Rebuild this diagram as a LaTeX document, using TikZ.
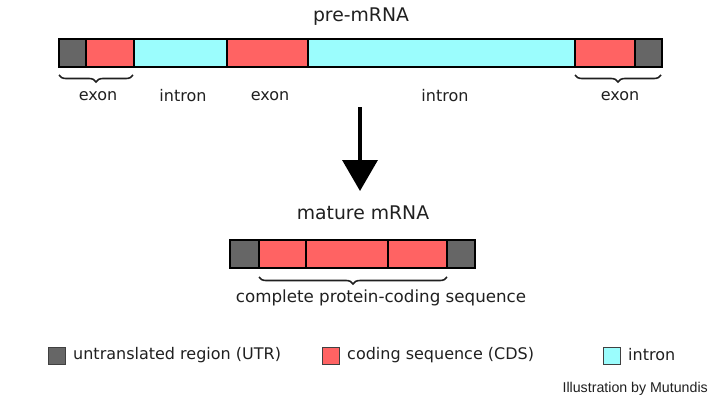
\documentclass[tikz,border=0pt]{standalone}
\usepackage{fontspec}
\setmainfont{DejaVu Sans}
\newfontfamily\creditfont{Liberation Sans}
\usetikzlibrary{arrows.meta,decorations.pathreplacing}
\definecolor{utrgrey}{HTML}{666666}
\definecolor{cdsred}{HTML}{FF6363}
\definecolor{intcyan}{HTML}{9BFDFD}
\definecolor{txt}{HTML}{202020}
\tikzset{
  seg/.style={draw=black, line width=1.6pt, inner sep=0pt, anchor=north west, minimum height=28pt},
  utr/.style={seg, fill=utrgrey},
  cds/.style={seg, fill=cdsred},
  intr/.style={seg, fill=intcyan},
  lab/.style={text=txt, font=\fontsize{16}{19}\selectfont, inner sep=0pt},
  ttl/.style={text=txt, font=\fontsize{18.8}{22}\selectfont, inner sep=0pt},
  brc/.style={draw=txt, line width=1.6pt, decorate, decoration={brace, mirror, amplitude=7pt}},
  legsq/.style={draw=black!75, line width=1pt, inner sep=0pt, minimum size=17pt},
}
\begin{document}
\begin{tikzpicture}[x=1pt,y=-1pt]
\useasboundingbox[fill=white] (0,0) rectangle (720,404);
% title
\node[ttl] (pretitle) at (361,17) {pre-mRNA};
% pre-mRNA bar
\node[utr, minimum width=27pt] (p1) at (58,38) {};
\node[cds, minimum width=48pt] (p2) at (85,38) {};
\node[intr, minimum width=93pt] (p3) at (133,38) {};
\node[cds, minimum width=81pt] (p4) at (226,38) {};
\node[intr, minimum width=267pt] (p5) at (307,38) {};
\node[cds, minimum width=60pt] (p6) at (574,38) {};
\node[utr, minimum width=27pt] (p7) at (634,38) {};
% braces
\draw[brc] (59,75) -- (133,75);
\draw[brc] (575,75) -- (661,75);
% labels
\node[lab] (l1) at (98,96) {exon};
\node[lab] (l2) at (183,96) {intron};
\node[lab] (l3) at (270,96) {exon};
\node[lab] (l4) at (445,96) {intron};
\node[lab] (l5) at (620,96) {exon};
% arrow
\coordinate (atop) at (360,107);
\coordinate (abot) at (360,191);
\draw[line width=3.5pt, -{Triangle[width=35pt,length=31pt]}] (atop) -- (abot);
% mature
\node[ttl] (mattitle) at (363,213) {mature mRNA};
\node[utr, minimum width=29pt] (m1) at (229,239) {};
\node[cds, minimum width=47pt] (m2) at (258,239) {};
\node[cds, minimum width=82pt] (m3) at (305,239) {};
\node[cds, minimum width=59pt] (m4) at (387,239) {};
\node[utr, minimum width=28pt] (m5) at (446,239) {};
\draw[brc] (259,277) -- (447,277);
\node[lab, font=\fontsize{16.7}{20}\selectfont] (cpcs) at (381,298) {complete protein-coding sequence};
% legend
\node[legsq, fill=utrgrey] (k1) at (57,356) {};
\node[lab, anchor=west] (t1) at (73,355) {untranslated region (UTR)};
\node[legsq, fill=cdsred] (k2) at (331,356) {};
\node[lab, anchor=west] (t2) at (347,355) {coding sequence (CDS)};
\node[legsq, fill=intcyan] (k3) at (612,356) {};
\node[lab, anchor=west] (t3) at (628,355) {intron};
\node[text=txt, font=\creditfont\fontsize{14.2}{16}\selectfont, inner sep=0pt, anchor=east] (credit) at (708,389) {Illustration by Mutundis};
\end{tikzpicture}
\end{document}
